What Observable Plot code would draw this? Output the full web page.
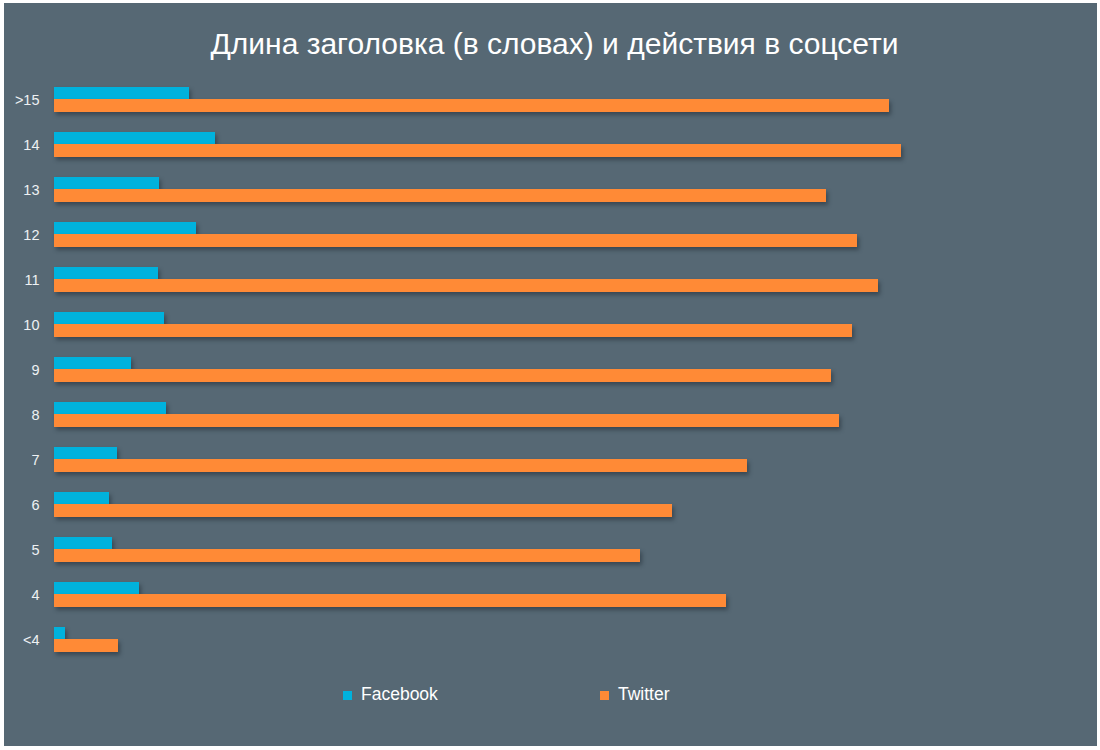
<!DOCTYPE html>
<html>
<head>
<meta charset="utf-8">
<script src="https://cdn.jsdelivr.net/npm/d3@7"></script>
<script src="https://cdn.jsdelivr.net/npm/@observablehq/plot@0.6"></script>
<style>
  html, body { margin: 0; padding: 0; background: #ffffff; }
  #panel {
    position: absolute; left: 4px; top: 3px; width: 1093px; height: 743px;
    background: #566874; font-family: "Liberation Sans", Arial, sans-serif; overflow: hidden;
  }
  #title {
    height: 74px; line-height: 82px; text-align: center; color: #ffffff;
    font-size: 30px; font-weight: normal; padding-left: 8px;
  }
  #chart svg { display: block; }
  #chart g[aria-label="bar"] rect { filter: drop-shadow(2px 3px 2px rgba(20,30,40,0.45)); }
  .leg { position: absolute; top: 679px; height: 24px; line-height: 24px; color: #ffffff; font-size: 17.5px; }
  .leg span.sw { display: inline-block; width: 9px; height: 9px; margin-right: 9px; vertical-align: 0px; }
</style>
</head>
<body>
<div id="panel">
  <div id="title">Длина заголовка (в словах) и действия в соцсети</div>
  <div id="chart"></div>
  <div class="leg" id="legFb" style="left:339px"><span class="sw" style="background:#00b2dd"></span>Facebook</div>
  <div class="leg" id="legTw" style="left:596px"><span class="sw" style="background:#ff8a36"></span>Twitter</div>
</div>
<script>
const categories = [">15", "14", "13", "12", "11", "10", "9", "8", "7", "6", "5", "4", "<4"];
const facebook = [135, 161, 105, 142, 104, 110, 77, 112, 63, 55, 58, 85, 11];
const twitter  = [835, 847, 772, 803, 824, 798, 777, 785, 693, 618, 586, 672, 64];
const seriesNames = ["Facebook", "Twitter"];
const seriesColors = ["#00b2dd", "#ff8a36"];

const fbData = categories.map((c, i) => ({category: c, value: facebook[i], series: seriesNames[0]}));
const twData = categories.map((c, i) => ({category: c, value: twitter[i], series: seriesNames[1]}));

const chart = Plot.plot({
  width: 1093,
  height: 600,
  marginLeft: 50,
  marginTop: 0,
  marginBottom: 0,
  marginRight: 43,
  style: {background: "transparent", fontFamily: "Liberation Sans, Arial, sans-serif", fontSize: "14.5px", color: "#eef1f3"},
  x: {domain: [0, 1000], range: [50, 1050], axis: null},
  y: {domain: categories, range: [0.5, 585.5], paddingInner: 0.4444, paddingOuter: 0.2222, tickSize: 0, tickPadding: 15, label: null},
  color: {domain: seriesNames, range: seriesColors},
  marks: [
    Plot.barX(fbData, {x: "value", y: "category", fill: "series", insetBottom: 12.5}),
    Plot.barX(twData, {x: "value", y: "category", fill: "series", insetTop: 12})
  ]
});
document.getElementById("chart").appendChild(chart);
</script>
</body>
</html>
